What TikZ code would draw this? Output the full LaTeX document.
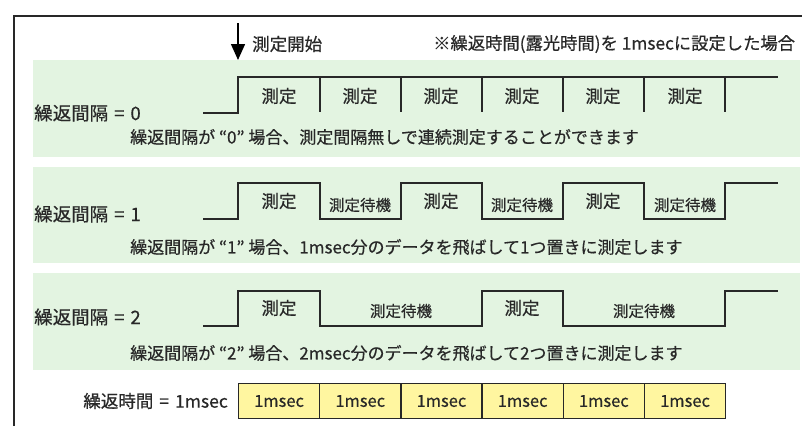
\documentclass[tikz,border=0pt]{standalone}
\usepackage{fontspec}
\setmainfont{Noto Sans CJK JP}[FakeBold=0.5]
\usetikzlibrary{arrows.meta}
\definecolor{bandgreen}{RGB}{227,244,225}
\definecolor{cellyellow}{RGB}{255,246,160}
\definecolor{inkgray}{RGB}{40,40,40}
\newcommand{\eqsp}{\hspace{6pt}=\hspace{6pt}}
\tikzset{
  band/.style={fill=bandgreen, draw=none},
  wave/.style={draw=inkgray, line width=1.3pt, line join=miter},
  divider/.style={draw=inkgray, line width=1.3pt},
  rowlabel/.style={anchor=west, inner sep=0pt, font=\fontsize{18.5}{22}\selectfont, text=inkgray},
  desc/.style={anchor=west, inner sep=0pt, font=\fontsize{17}{20}\selectfont, text=inkgray},
  meas/.style={inner sep=0pt, font=\fontsize{17.5}{20}\selectfont, text=inkgray},
  waittext/.style={inner sep=0pt, font=\fontsize{15.5}{18}\selectfont, text=inkgray},
  cellbox/.style={draw=inkgray, fill=cellyellow, line width=1.1pt, minimum width=81pt, minimum height=35pt, inner sep=0pt, anchor=north west, font=\fontsize{16.5}{19}\selectfont, text=inkgray},
  toptext/.style={anchor=west, inner sep=0pt, font=\fontsize{17.3}{20}\selectfont, text=inkgray}
}
\begin{document}
\begin{tikzpicture}[x=1pt,y=-1pt]
\useasboundingbox[fill=white] (0,0) rectangle (802,426);
% frame
\draw[line width=2pt, draw=inkgray] (14,426) -- (14,16) -- (802,16);
% bands
\fill[band] (33,60) rectangle (800,157);
\fill[band] (33,167) rectangle (800,263);
\fill[band] (33,273) rectangle (800,370);
% start arrow
\coordinate (arrtop) at (238,23);
\coordinate (arrbot) at (238,60);
\draw[line width=1.5pt, draw=black, -{Triangle[length=16pt,width=14pt]}] (arrtop) -- (arrbot);
\node[toptext, font=\fontsize{17.5}{20}\selectfont] (start) at (252,44) {測定開始};
\node[toptext] (note) at (433,44) {※繰返時間(露光時間)を 1msecに設定した場合};
% row labels
\node[rowlabel] (r0) at (34,113) {繰返間隔\eqsp 0};
\node[rowlabel] (r1) at (34,214) {繰返間隔\eqsp 1};
\node[rowlabel] (r2) at (34,317) {繰返間隔\eqsp 2};
% descriptions
\node[desc] (d0) at (130,137) {繰返間隔が “0” 場合、測定間隔無しで連続測定することができます};
\node[desc] (d1) at (130,247) {繰返間隔が “1” 場合、1msec分のデータを飛ばして1つ置きに測定します};
\node[desc] (d2) at (130,353) {繰返間隔が “2” 場合、2msec分のデータを飛ばして2つ置きに測定します};
% row 0 waveform
\draw[wave] (203,113) -- (238,113) -- (238,77) -- (778,77);
\foreach \x in {320,401,482,563,644,725} \draw[divider] (\x,77) -- (\x,112);
\foreach \x/\n in {279/a,360/b,441/c,522/d,603/e,685/f} \node[meas] (m0\n) at (\x,96) {測定};
% row 1 waveform
\draw[wave] (203,219) -- (238,219) -- (238,183) -- (320,183) -- (320,219) -- (401,219) -- (401,183) -- (482,183) -- (482,219) -- (563,219) -- (563,183) -- (644,183) -- (644,219) -- (725,219) -- (725,183) -- (778,183);
\foreach \x/\n in {279/a,441/b,603/c} \node[meas] (m1\n) at (\x,201) {測定};
\foreach \x/\n in {360/a,522/b,685/c} \node[waittext] (w1\n) at (\x,205) {測定待機};
% row 2 waveform
\draw[wave] (203,326) -- (238,326) -- (238,291) -- (320,291) -- (320,326) -- (482,326) -- (482,291) -- (563,291) -- (563,326) -- (725,326) -- (725,291) -- (778,291);
\foreach \x/\n in {279/a,522/b} \node[meas] (m2\n) at (\x,308) {測定};
\foreach \x/\n in {401/a,644/b} \node[waittext] (w2\n) at (\x,311) {測定待機};
% bottom cells
\node[rowlabel, anchor=east, font=\fontsize{17.5}{20}\selectfont] (rt) at (228,401) {繰返時間\eqsp 1msec};
\foreach \i in {0,...,5} \node[cellbox] (c\i) at (238+81.2*\i,383) {1msec};
\end{tikzpicture}
\end{document}
